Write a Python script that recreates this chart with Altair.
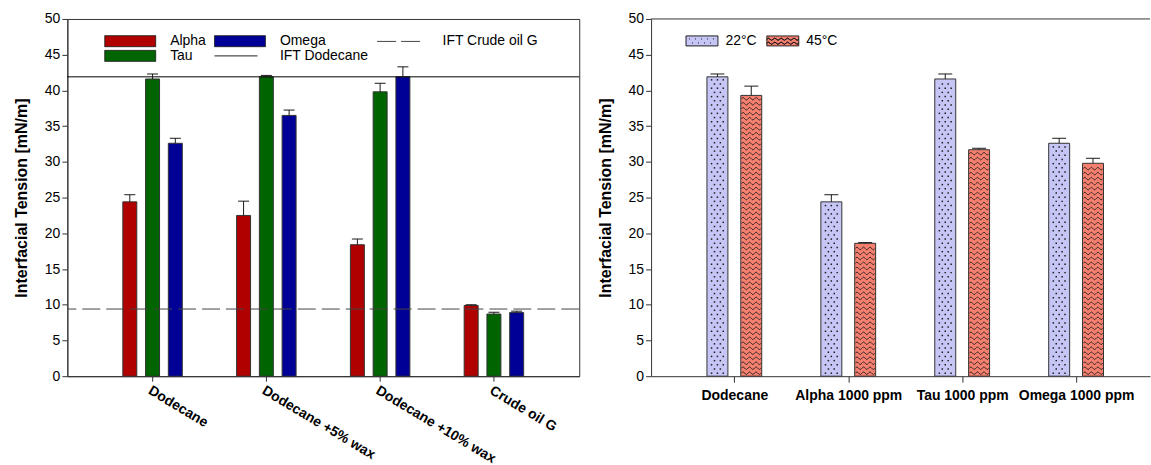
import json
import altair as alt
import pandas as pd

# ---------------- data ----------------
# Left panel: interfacial tension of oils with the three additives
oils = ["Dodecane", "Dodecane +5% wax", "Dodecane +10% wax", "Crude oil G"]
alpha = [24.4, 22.5, 18.4, 9.9]
alpha_err = [1.0, 2.0, 0.8, 0.1]
tau = [41.6, 41.9, 39.8, 8.7]
tau_err = [0.7, 0.2, 1.2, 0.25]
omega = [32.6, 36.5, 41.9, 8.9]
omega_err = [0.7, 0.75, 1.4, 0.2]
ift_dodecane = 41.9
ift_crude_oil_g = 9.4

# Right panel: temperature effect at 1000 ppm
systems = ["Dodecane", "Alpha 1000 ppm", "Tau 1000 ppm", "Omega 1000 ppm"]
ift_22 = [41.9, 24.4, 41.6, 32.6]
ift_22_err = [0.4, 1.0, 0.7, 0.7]
ift_45 = [39.3, 18.6, 31.7, 29.8]
ift_45_err = [1.3, 0.1, 0.2, 0.7]

# ---------------- layout / style ----------------
FONT = "Liberation Sans"
INK = "#1a1a1a"
FRAME = "#333333"

LEFT_W, LEFT_H = 513, 358
RIGHT_W, RIGHT_H = 500, 358
LEFT_X = [0.295, 4.706]
RIGHT_X = [0.313, 4.605]
Y_MAX = 50

LEFT_COLORS = {"Alpha": "#b00000", "Tau": "#006400", "Omega": "#000096"}
C22, C45 = "#c6c6f6", "#f5806f"

left_x_scale = alt.Scale(domain=LEFT_X, nice=False, zero=False)
right_x_scale = alt.Scale(domain=RIGHT_X, nice=False, zero=False)
y_scale = alt.Scale(domain=[0, Y_MAX], nice=False)

px_left = (LEFT_X[1] - LEFT_X[0]) / LEFT_W      # x units per pixel
px_right = (RIGHT_X[1] - RIGHT_X[0]) / RIGHT_W
px_y = Y_MAX / RIGHT_H                          # y units per pixel

Y_AXIS = alt.Axis(values=list(range(0, 51, 5)), title="Interfacial Tension [mN/m]",
                  titleFontSize=16, titleFontWeight="bold", titlePadding=15,
                  titleColor="black", labelFontSize=14, labelPadding=2, labelColor="black",
                  labelOverlap=False, tickSize=5.5, tickColor=FRAME, domainColor=FRAME,
                  grid=False)


def names_expr(names):
    return json.dumps(names) + "[datum.value - 1]"


LEFT_X_AXIS = alt.Axis(values=[1, 2, 3, 4], labelExpr=names_expr(oils), title=None,
                       labelAngle=31, labelAlign="left", labelBaseline="top",
                       labelFontWeight="bold", labelFontSize=14, labelColor="black",
                       labelPadding=2, labelOverlap=False, labelFlush=False,
                       tickSize=5, tickColor=FRAME, domainColor=FRAME, grid=False)
RIGHT_X_AXIS = alt.Axis(values=[1, 2, 3, 4], labelExpr=names_expr(systems), title=None,
                        labelAngle=0, labelAlign="center", labelBaseline="top",
                        labelFontWeight="bold", labelFontSize=14, labelColor="black",
                        labelPadding=6, labelOverlap=False, labelFlush=False,
                        tickSize=6, tickColor=FRAME, domainColor=FRAME, grid=False)


def rect_part(w, h, unit):
    x1 = -1 + w / unit
    hy = h / 2 / unit
    return f"M-1,{-hy:.3f}H{x1:.3f}V{hy:.3f}H-1Z"


def zigzag_part(x0, x1, yc, period, amp):
    n = max(4, int(round((x1 - x0) / (period / 4))))
    pts = [(x0 + j * (x1 - x0) / n, yc + [0, -amp, 0, amp][j % 4]) for j in range(n + 1)]
    seq = pts + pts[-2::-1]   # trace back so the sub-path encloses no area
    return "M" + "L".join(f"{x:.3f},{y:.3f}" for x, y in seq)


def legend_key(order, fills, strokes, shapes, dashes, legend):
    """Legend-only layer: no rows are drawn, the key comes from the scale domains."""
    return alt.Chart(pd.DataFrame({"series": order})).transform_filter(
        "false").mark_point(filled=True, opacity=1, strokeWidth=1).encode(
        fill=alt.Fill("series:N", scale=alt.Scale(domain=order, range=fills), legend=legend),
        stroke=alt.Stroke("series:N", scale=alt.Scale(domain=order, range=strokes), legend=legend),
        shape=alt.Shape("series:N", scale=alt.Scale(domain=order, range=shapes), legend=legend),
        strokeDash=alt.StrokeDash("series:N", scale=alt.Scale(domain=order, range=dashes),
                                  legend=legend),
    )


# ---------------- left panel ----------------
left_rows = []
for name, vals, errs, slot in [("Alpha", alpha, alpha_err, -1),
                               ("Tau", tau, tau_err, 0),
                               ("Omega", omega, omega_err, 1)]:
    for i, (v, e) in enumerate(zip(vals, errs)):
        left_rows.append({"series": name, "pos": i + 1 + slot * 0.2, "value": v, "top": v + e})
left_df = pd.DataFrame(left_rows)

# legend entries fill the grid column by column
left_legend_order = ["Alpha", "Tau", "Omega", "IFT Dodecane", "IFT Crude oil G"]
L_SIZE = 121
L_UNIT = (L_SIZE ** 0.5) / 2
bar_sym = rect_part(51, 11, L_UNIT)
line_sym = f"M-1,0H{-1 + 43 / L_UNIT:.3f}"

left_legend = alt.Legend(title=None, orient="none", legendX=36, legendY=15, columns=3,
                         symbolSize=L_SIZE, symbolStrokeWidth=1,
                         symbolOpacity=1, symbolOffset=0, labelOffset=53, labelFontSize=14,
                         labelColor="black", labelFont=FONT, columnPadding=6, rowPadding=-1,
                         padding=0)

left_bars = alt.Chart(left_df).mark_bar(size=14, stroke=FRAME, strokeWidth=1).encode(
    x=alt.X("pos:Q", scale=left_x_scale, axis=LEFT_X_AXIS),
    y=alt.Y("value:Q", scale=y_scale, axis=Y_AXIS),
    color=alt.Color("series:N", scale=alt.Scale(domain=list(LEFT_COLORS),
                                                range=list(LEFT_COLORS.values())), legend=None),
)

ref_solid = alt.Chart(pd.DataFrame({"value": [ift_dodecane]})).mark_rule(
    color="black", strokeWidth=1).encode(y=alt.Y("value:Q", scale=y_scale, axis=Y_AXIS))
ref_dash = alt.Chart(pd.DataFrame({"value": [ift_crude_oil_g]})).mark_rule(
    color="#444444", strokeWidth=1, strokeDash=[18, 6]).encode(
    y=alt.Y("value:Q", scale=y_scale, axis=Y_AXIS))

left_err = alt.Chart(left_df).mark_rule(color=INK, strokeWidth=1).encode(
    x=alt.X("pos:Q", scale=left_x_scale, axis=LEFT_X_AXIS),
    y=alt.Y("value:Q", scale=y_scale, axis=Y_AXIS), y2="top:Q")
left_cap = alt.Chart(left_df).mark_tick(orient="horizontal", size=11, thickness=1, color=INK,
                                        opacity=1).encode(
    x=alt.X("pos:Q", scale=left_x_scale, axis=LEFT_X_AXIS),
    y=alt.Y("top:Q", scale=y_scale, axis=Y_AXIS))

left_key = legend_key(
    left_legend_order,
    [LEFT_COLORS["Alpha"], LEFT_COLORS["Tau"], LEFT_COLORS["Omega"], "transparent", "transparent"],
    [INK, INK, INK, "black", "#444444"],
    [bar_sym, bar_sym, bar_sym, line_sym, line_sym],
    [[1, 0], [1, 0], [1, 0], [1, 0], [19, 5]],
    left_legend,
)

left = alt.layer(left_bars, ref_solid, ref_dash, left_err, left_cap, left_key).properties(
    width=LEFT_W, height=LEFT_H, view=alt.ViewBackground(stroke=FRAME, strokeWidth=1))

# ---------------- right panel ----------------
SLOT_R = 17.3 * px_right
right_rows = []
for name, vals, errs, slot in [("22°C", ift_22, ift_22_err, -1), ("45°C", ift_45, ift_45_err, 1)]:
    for i, (v, e) in enumerate(zip(vals, errs)):
        right_rows.append({"series": name, "pos": i + 1 + slot * SLOT_R, "value": v, "top": v + e})
right_df = pd.DataFrame(right_rows)

# dotted texture inside the 22 °C bars
dot_rows = []
for i, v in enumerate(ift_22):
    cx = i + 1 - SLOT_R
    r, yy = 0, 3.0
    while yy < v / px_y - 2:
        offs = [-6, 0, 6] if r % 2 == 0 else [-3, 3]
        for o in offs:
            dot_rows.append({"pos": cx + o * px_right, "value": yy * px_y})
        yy += 4.2
        r += 1
dots_df = pd.DataFrame(dot_rows)

# wavy texture inside the 45 °C bars
wave_rows = []
for i, v in enumerate(ift_45):
    cx = i + 1 + SLOT_R
    k, base = 0, 3.0
    while base < v / px_y - 2.5:
        for j in range(13):
            dx = -10 + j * (20 / 12)
            dy = [0, 1.3, 0, -1.3][j % 4]
            wave_rows.append({"line": f"{i}-{k}", "pos": cx + dx * px_right,
                              "value": (base + dy) * px_y})
        base += 5.0
        k += 1
waves_df = pd.DataFrame(wave_rows)

R_SIZE = 100
R_UNIT = (R_SIZE ** 0.5) / 2
sw_w, sw_h = 32, 10
dot_parts = []
for py, xs in [(3, [3, 9, 15, 21, 27]), (7, [6, 12, 18, 24])]:
    for px in xs:
        dot_parts.append(f"M{-1 + px / R_UNIT:.3f},{-1 + py / R_UNIT:.3f}h0.2")
sym22 = " ".join([rect_part(sw_w, sw_h, R_UNIT)] + dot_parts)
sym45 = " ".join([rect_part(sw_w, sw_h, R_UNIT),
                  zigzag_part(-1, -1 + sw_w / R_UNIT, -1 + 3.3 / R_UNIT, 6.4 / R_UNIT, 1.1 / R_UNIT),
                  zigzag_part(-1, -1 + sw_w / R_UNIT, -1 + 7.3 / R_UNIT, 6.4 / R_UNIT, 1.1 / R_UNIT)])

right_order = ["22°C", "45°C"]
right_legend = alt.Legend(title=None, orient="none", legendX=33, legendY=15, columns=2,
                          symbolSize=R_SIZE, symbolStrokeWidth=1,
                          symbolOpacity=1, symbolOffset=0, labelOffset=27.5, labelFontSize=14,
                          labelColor="black", labelFont=FONT, columnPadding=8, rowPadding=0,
                          padding=0)

# bar colours come from their own scale (listed hottest first) so that this
# legend-less scale stays apart from the key's scales
right_bars = alt.Chart(right_df).mark_bar(size=21, stroke=FRAME, strokeWidth=1).encode(
    x=alt.X("pos:Q", scale=right_x_scale, axis=RIGHT_X_AXIS),
    y=alt.Y("value:Q", scale=y_scale, axis=Y_AXIS),
    color=alt.Color("series:N", scale=alt.Scale(domain=right_order[::-1], range=[C45, C22]),
                    legend=None),
)

dots = alt.Chart(dots_df).mark_square(size=2.2, color=INK, opacity=1).encode(
    x=alt.X("pos:Q", scale=right_x_scale, axis=RIGHT_X_AXIS),
    y=alt.Y("value:Q", scale=y_scale, axis=Y_AXIS))
waves = alt.Chart(waves_df).mark_line(color=INK, strokeWidth=0.9, interpolate="monotone").encode(
    x=alt.X("pos:Q", scale=right_x_scale, axis=RIGHT_X_AXIS),
    y=alt.Y("value:Q", scale=y_scale, axis=Y_AXIS), detail="line:N")

right_err = alt.Chart(right_df).mark_rule(color=INK, strokeWidth=1).encode(
    x=alt.X("pos:Q", scale=right_x_scale, axis=RIGHT_X_AXIS),
    y=alt.Y("value:Q", scale=y_scale, axis=Y_AXIS), y2="top:Q")
right_cap = alt.Chart(right_df).mark_tick(orient="horizontal", size=14, thickness=1, color=INK,
                                          opacity=1).encode(
    x=alt.X("pos:Q", scale=right_x_scale, axis=RIGHT_X_AXIS),
    y=alt.Y("top:Q", scale=y_scale, axis=Y_AXIS))

top_rule = alt.Chart(pd.DataFrame({"value": [Y_MAX]})).mark_rule(color=FRAME, strokeWidth=1).encode(
    y=alt.Y("value:Q", scale=y_scale, axis=Y_AXIS))

right_key = legend_key(right_order, [C22, C45], [INK, INK], [sym22, sym45],
                       [[1, 0], [1, 0]], right_legend)

right = alt.layer(right_bars, dots, waves, right_err, right_cap, top_rule, right_key).properties(
    width=RIGHT_W, height=RIGHT_H)

chart = alt.hconcat(left, right, spacing=16).resolve_scale(
    x="independent", y="independent", color="independent", fill="independent",
    stroke="independent", shape="independent", strokeDash="independent",
).resolve_legend(fill="independent", stroke="independent", shape="independent",
                 strokeDash="independent").properties(
    padding={"left": 12.5, "top": 10.5, "right": 0, "bottom": 0},
).configure(font=FONT).configure_view(stroke="transparent")

chart.save("out.html", embed_options={"renderer": "svg", "actions": False})
